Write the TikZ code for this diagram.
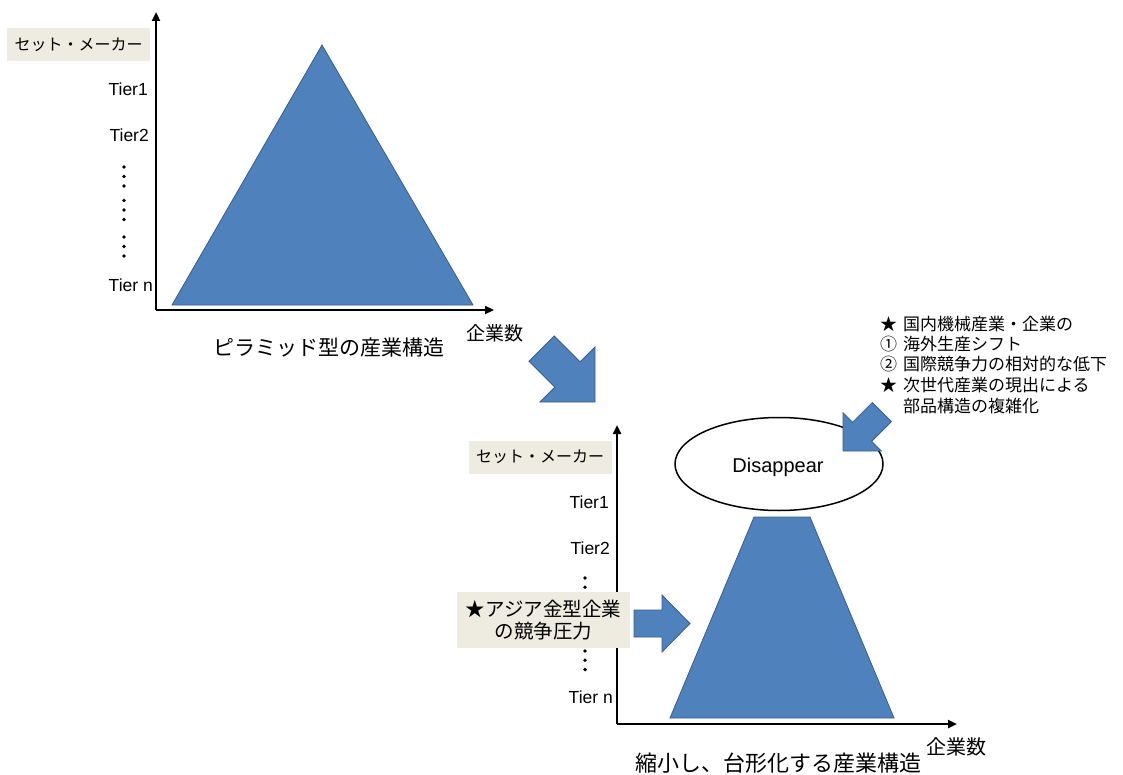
\documentclass[tikz,border=0pt]{standalone}
\usepackage{fontspec}
\setmainfont{Liberation Sans}
\newfontfamily\jp{Noto Sans CJK JP}
\usetikzlibrary{arrows.meta,shapes.geometric}
\definecolor{pblue}{HTML}{4F81BD}
\definecolor{pedge}{HTML}{385D8A}
\definecolor{pbeige}{HTML}{EEECE1}
\begin{document}
\begin{tikzpicture}[x=1pt,y=-1pt,
  axisline/.style={line width=2.6pt,-{Triangle[length=9pt,width=8pt]}},
  bluefill/.style={fill=pblue,draw=pedge,line width=0.8pt,line join=miter},
  tier/.style={font=\fontsize{17.5}{20}\selectfont,anchor=east,inner sep=0pt},
  tagbox/.style={fill=pbeige,inner sep=0pt,minimum width=143pt,minimum height=33pt,font=\jp\fontsize{16}{19}\selectfont},
  jptext/.style={font=\jp\fontsize{#1}{#1}\selectfont,inner sep=0pt},
  notes/.style={font=\jp\fontsize{17}{20}\selectfont,inner sep=0pt,anchor=west},
  dotmark/.style={fill=black}
]
\useasboundingbox (0,0) rectangle (1123,775);

% ---------- upper panel ----------
\coordinate (o1) at (156,310);
\coordinate (y1) at (156,12);
\coordinate (x1) at (494,310);
\draw[bluefill] (322,45) -- (473,305) -- (172,305) -- cycle;
\draw[axisline] (o1) -- (y1);
\draw[axisline] (o1) -- (x1);
\node[tagbox] (maker1) at (78.5,44.5) {セット・メーカー};
\node[tier] (t11) at (148,89) {Tier1};
\node[tier] (t12) at (149,135) {Tier2};
\node[tier] (t1n) at (153,285) {Tier n};
\foreach \y in {167,176.5,186,200.5,210,219.5,237,246.5,256}
  \fill[dotmark] (124,\y) circle (1.9);
\node[jptext=19] (cnt1) at (495,333) {企業数};
\node[jptext=21] (title1) at (329,348) {ピラミッド型の産業構造};

% ---------- big transition arrow ----------
\draw[bluefill] (595,402) -- (595,347) -- (580.1,361.9) -- (554.2,336)
  -- (529,361.2) -- (554.9,387.1) -- (540,402) -- cycle;

% ---------- lower panel ----------
\coordinate (o2) at (617,724);
\coordinate (y2) at (617,425);
\coordinate (x2) at (957,724);
\draw[bluefill] (754,517) -- (810,517) -- (894,718) -- (670,718) -- cycle;
\foreach \y in {578,587.3,596.6,606,615,624,633,642,651,660.3,669.6}
  \fill[dotmark] (585,\y) circle (1.9);
\draw[axisline] (o2) -- (y2);
\draw[axisline] (o2) -- (x2);
\node[tagbox] (maker2) at (540,457) {セット・メーカー};
\node[tier] (t21) at (609,502) {Tier1};
\node[tier] (t22) at (610,548) {Tier2};
\node[tier] (t2n) at (613,697) {Tier n};
\node[fill=pbeige,inner sep=0pt,minimum width=173pt,minimum height=56pt,
      align=center,font=\jp\fontsize{19.5}{22.5}\selectfont] (asia) at (543.5,620)
      {★アジア金型企業\\の競争圧力};
\draw[bluefill] (634,610) -- (662,610) -- (662,595) -- (690,623.5)
  -- (662,652) -- (662,637) -- (634,637) -- cycle;

\node[draw=black,line width=1.5pt,fill=white,ellipse,minimum width=208pt,
      minimum height=93pt,inner sep=0pt] (dis) at (779,464) {};
\node[font=\fontsize{20}{24}\selectfont,inner sep=0pt] (distext) at (778,467) {Disappear};
\draw[bluefill] (843,451) -- (881.2,451) -- (871.6,441.4) -- (891.4,421.6)
  -- (872.3,402.5) -- (852.5,422.3) -- (843,412.8) -- cycle;

\node[notes] (n1) at (880,324) {\makebox[23pt][l]{★}国内機械産業・企業の};
\node[notes] (n2) at (880,344) {\makebox[23pt][l]{①}海外生産シフト};
\node[notes] (n3) at (880,364.5) {\makebox[23pt][l]{②}国際競争力の相対的な低下};
\node[notes] (n4) at (880,385) {\makebox[23pt][l]{★}次世代産業の現出による};
\node[notes] (n5) at (880,406) {\hspace*{23pt}部品構造の複雑化};

\node[jptext=20] (cnt2) at (956,747) {企業数};
\node[jptext=22] (title2) at (778,763) {縮小し、台形化する産業構造};
\end{tikzpicture}
\end{document}
